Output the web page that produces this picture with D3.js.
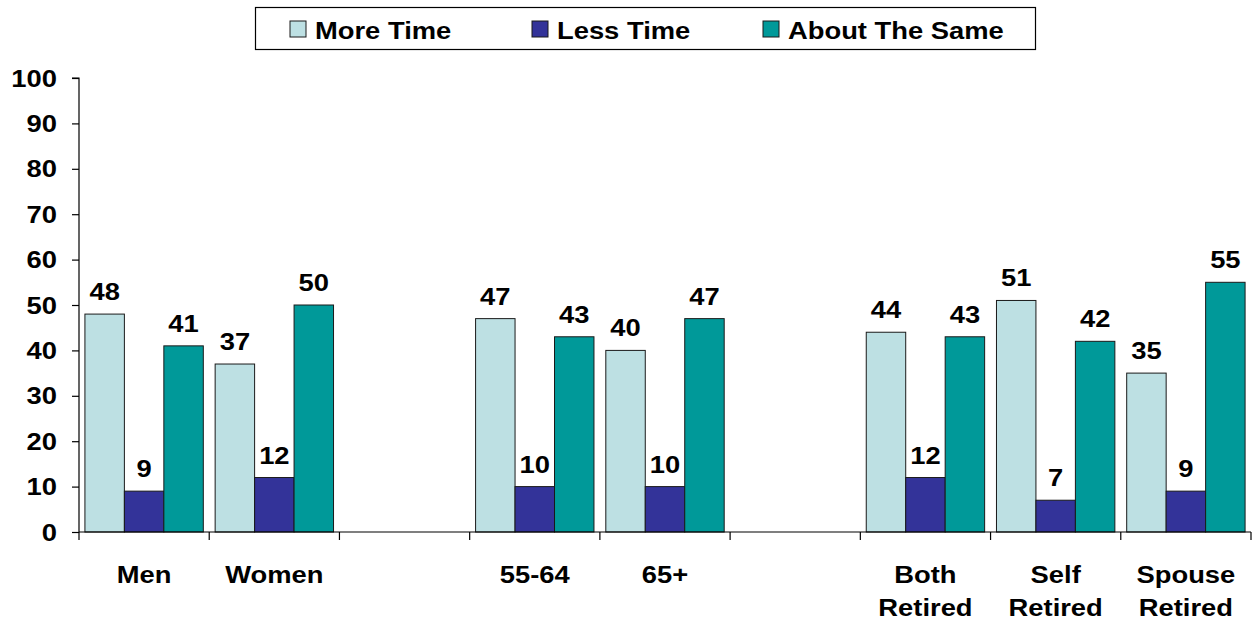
<!DOCTYPE html>
<html>
<head>
<meta charset="utf-8">
<script src="https://cdn.jsdelivr.net/npm/d3@7"></script>
<style>
  html, body { margin: 0; padding: 0; background: #fff; }
  svg text { font-family: Arial, "Liberation Sans", sans-serif; font-weight: bold; fill: #000; }
</style>
</head>
<body>
<svg id="chart" width="1254" height="622"></svg>
<script>
// Category slots (empty slots separate the three groups)
const categories = ["Men", "Women", "gap1", "55-64", "65+", "gap2", "Both Retired", "Self Retired", "Spouse Retired"];
const categoryLabels = [["Men"], ["Women"], [], ["55-64"], ["65+"], [], ["Both", "Retired"], ["Self", "Retired"], ["Spouse", "Retired"]];
const seriesNames = ["More Time", "Less Time", "About The Same"];
const moreTime   = [48, 37, null, 47, 40, null, 44, 51, 35];
const lessTime   = [9, 12, null, 10, 10, null, 12, 7, 9];
const aboutSame  = [41, 50, null, 43, 47, null, 43, 42, 55];
const yTicks = [0, 10, 20, 30, 40, 50, 60, 70, 80, 90, 100];
const colors = ["#BDE0E3", "#333399", "#009999"];

const seriesValues = [moreTime, lessTime, aboutSame];

const svg = d3.select("#chart");
const margin = { left: 79, right: 3, top: 78 };
const W = 1254;
const plotBottom = 532;
const FONT = 24, STRETCH = 1.14;

// Bold label with the slightly wide lettering used throughout the chart
function label(parent, x, y, str, anchor) {
  return parent.append("text")
    .attr("transform", `translate(${x},${y}) scale(${STRETCH},1)`)
    .attr("text-anchor", anchor || "middle")
    .style("font-size", FONT + "px")
    .text(str);
}

const x = d3.scaleBand().domain(categories).range([margin.left, W - margin.right]).paddingInner(0).paddingOuter(0);
const inner = d3.scaleBand().domain(seriesNames).range([0, x.bandwidth()]).paddingOuter(0.15).paddingInner(0);
const y = d3.scaleLinear().domain([0, 100]).range([plotBottom, margin.top]);

// Bars and value labels
categories.forEach((c, i) => {
  seriesNames.forEach((s, j) => {
    const v = seriesValues[j][i];
    if (v == null) return;
    const bx = x(c) + inner(s);
    svg.append("rect")
      .attr("x", bx)
      .attr("y", y(v))
      .attr("width", inner.bandwidth())
      .attr("height", y(0) - y(v))
      .attr("fill", colors[j])
      .attr("stroke", "#1a1a1a")
      .attr("stroke-width", 1);
    label(svg, bx + inner.bandwidth() / 2, y(v) - 14, v);
  });
});

// Y axis
const yAxis = d3.axisLeft(y).tickValues(yTicks).tickSize(7).tickFormat("");
const gy = svg.append("g").attr("transform", `translate(${margin.left},0)`).call(yAxis);
gy.select(".domain").attr("stroke", "#000").attr("stroke-width", 1.2).attr("d", `M-7,${y(100)}H0V${y(0)}`);
gy.selectAll(".tick line").attr("stroke", "#000").attr("stroke-width", 1.2);
yTicks.forEach(t => label(svg, margin.left - 22, y(t) + 8.5, t, "end"));

// X axis baseline with boundary ticks between slots
const gx = svg.append("g");
gx.append("line")
  .attr("x1", margin.left).attr("x2", W - margin.right)
  .attr("y1", y(0)).attr("y2", y(0))
  .attr("stroke", "#000").attr("stroke-width", 1.2);
const boundaries = categories.map(c => x(c)).concat([x(categories[categories.length - 1]) + x.bandwidth()]);
gx.selectAll("line.tick").data(boundaries).enter().append("line")
  .attr("class", "tick")
  .attr("x1", d => d).attr("x2", d => d)
  .attr("y1", y(0)).attr("y2", y(0) + 8)
  .attr("stroke", "#000").attr("stroke-width", 1.2);

// Category labels
categories.forEach((c, i) => {
  categoryLabels[i].forEach((ln, k) => {
    label(svg, x(c) + x.bandwidth() / 2, 583 + k * 33, ln);
  });
});

// Legend
const legend = svg.append("g");
legend.append("rect")
  .attr("x", 255.5).attr("y", 7.5).attr("width", 780).attr("height", 42)
  .attr("fill", "#fff").attr("stroke", "#000").attr("stroke-width", 1.2);
const legendX = [290, 532, 763];
seriesNames.forEach((s, j) => {
  legend.append("rect")
    .attr("x", legendX[j]).attr("y", 21).attr("width", 16).attr("height", 16)
    .attr("fill", colors[j]).attr("stroke", "#1a1a1a").attr("stroke-width", 1);
  label(legend, legendX[j] + 25, 38.5, s, "start");
});
</script>
</body>
</html>
